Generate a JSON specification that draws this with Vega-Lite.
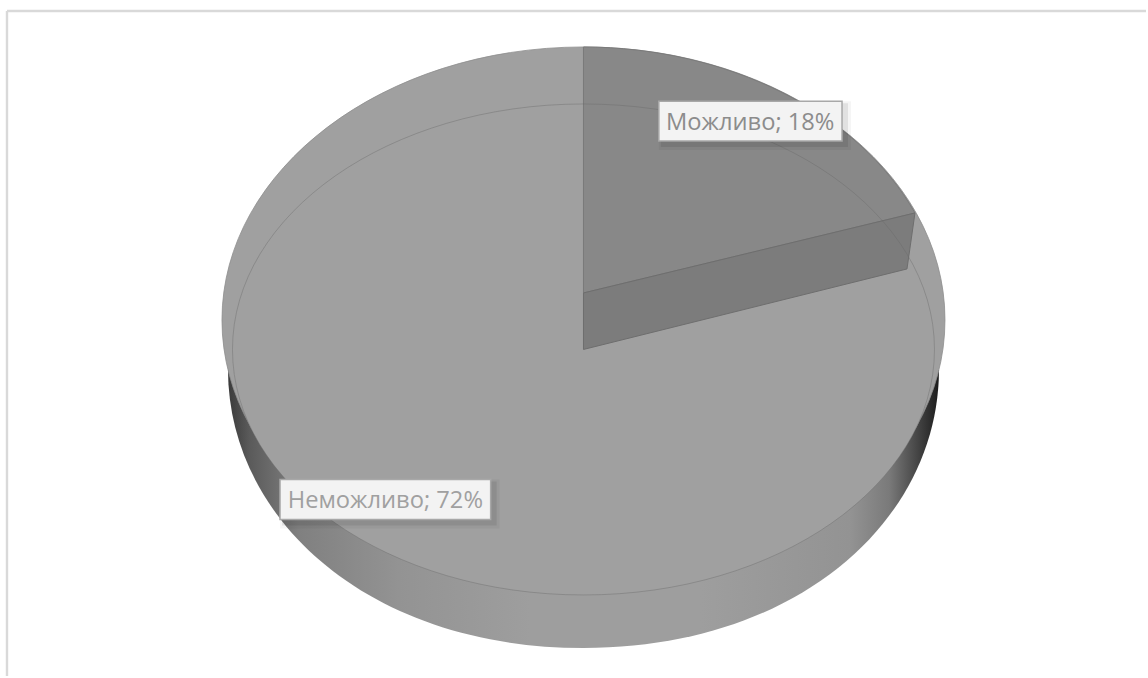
{
  "$schema": "https://vega.github.io/schema/vega-lite/v6.json",
  "autosize": {"type": "fit", "contains": "padding"},
  "width": 1148,
  "height": 678,
  "padding": 0,
  "background": "white",
  "config": {"view": {"stroke": null}},
  "datasets": {
    "pie": [
      {"category": "Неможливо", "share": 72, "x": 0, "y": 0},
      {"category": "Можливо", "share": 18, "x": 0, "y": 0}
    ],
    "labels": [
      {"category": "Можливо", "share": 18, "x": 167, "y": -229, "left": 75.5, "right": 259, "top": -249, "bottom": -209},
      {"category": "Неможливо", "share": 72, "x": -198.5, "y": 150.5, "left": -304, "right": -93, "top": 130.5, "bottom": 170.5}
    ],
    "frame": [
      {"edge": "top", "x": -577.5, "x2": 563.5, "y": -339.5, "y2": -339.5},
      {"edge": "left", "x": -577.5, "x2": -577.5, "y": -339.5, "y2": 327.5}
    ]
  },
  "encoding": {
    "x": {"field": "x", "type": "quantitative", "axis": null, "scale": {"domain": [-584.5, 563.5], "zero": false, "nice": false}},
    "y": {"field": "y", "type": "quantitative", "axis": null, "scale": {"domain": [327.5, -350.5], "zero": false, "nice": false}}
  },
  "layer": [
    {
      "description": "Chart frame",
      "data": {"name": "frame"},
      "mark": {"type": "rule", "stroke": "#d9d9d9", "strokeWidth": 2.4},
      "encoding": {"x2": {"field": "x2"}, "y2": {"field": "y2"}}
    },
    {
      "description": "Side wall of the pie, lit from the centre",
      "data": {"name": "pie"},
      "transform": [{"filter": "datum.category === 'Неможливо'"}],
      "mark": {
        "type": "point", "filled": true, "opacity": 1, "size": 4,
        "shape": "M-355.5,20.5 C-355,170 -215,298.5 0,298.5 C215,298.5 355,170 355.5,20.5 Z",
        "stroke": null,
        "fill": {
          "x1": 0, "y1": 0, "x2": 1, "y2": 0, "gradient": "linear",
          "stops": [
            {"offset": 0, "color": "#3a3a3a"},
            {"offset": 0.03, "color": "#5a5a5a"},
            {"offset": 0.1, "color": "#808080"},
            {"offset": 0.24, "color": "#939393"},
            {"offset": 0.425, "color": "#9e9e9e"},
            {"offset": 0.664, "color": "#9e9e9e"},
            {"offset": 0.875, "color": "#939393"},
            {"offset": 0.93, "color": "#7a7a7a"},
            {"offset": 0.966, "color": "#4a4a4a"},
            {"offset": 1, "color": "#1c1c1c"}
          ]
        }
      }
    },
    {
      "description": "Back part of the top surface",
      "data": {"name": "pie"},
      "transform": [{"filter": "datum.category === 'Неможливо'"}],
      "mark": {
        "type": "point", "filled": true, "opacity": 1, "size": 4,
        "shape": "M-361.5,-29.5 A361.5,273 0 1 1 361.5,-29.5 A361.5,273 0 1 1 -361.5,-29.5 Z",
        "fill": "#a0a0a0", "stroke": "#8e8e8e", "strokeWidth": 0.8
      }
    },
    {
      "description": "Front part of the top surface",
      "data": {"name": "pie"},
      "transform": [{"filter": "datum.category === 'Неможливо'"}],
      "mark": {
        "type": "point", "filled": true, "opacity": 1, "size": 4,
        "shape": "M-351,0 A351,245.5 0 1 1 351,0 A351,245.5 0 1 1 -351,0 Z",
        "fill": "#a0a0a0", "stroke": null
      }
    },
    {
      "description": "Top face of the smaller slice",
      "data": {"name": "pie"},
      "transform": [{"filter": "datum.category === 'Можливо'"}],
      "mark": {
        "type": "point", "filled": true, "opacity": 1, "size": 4,
        "shape": "M0,-302.5 A361.5,273 0 0 1 331.5,-136.5 L0,-56.5 Z",
        "fill": "#888888", "stroke": "#7a7a7a", "strokeWidth": 1
      }
    },
    {
      "description": "Cut face of the smaller slice",
      "data": {"name": "pie"},
      "transform": [{"filter": "datum.category === 'Можливо'"}],
      "mark": {
        "type": "point", "filled": true, "opacity": 1, "size": 4,
        "shape": "M0,-56.5 L331.5,-136.5 L323.5,-80.5 L0,0 Z",
        "fill": "#7c7c7c", "stroke": "#6e6e6e", "strokeWidth": 1
      }
    },
    {
      "description": "Thin rim line of the top surface",
      "data": {"name": "pie"},
      "transform": [{"filter": "datum.category === 'Неможливо'"}],
      "mark": {
        "type": "point", "filled": false, "opacity": 1, "size": 4,
        "shape": "M-351,0 A351,245.5 0 1 1 351,0 A351,245.5 0 1 1 -351,0 Z",
        "fill": null, "stroke": "#6a6a6a", "strokeOpacity": 0.4, "strokeWidth": 1
      }
    },
    {
      "description": "Soft label shadow, outer",
      "data": {"name": "labels"},
      "mark": {"type": "rect", "fill": "#000000", "opacity": 0.04, "xOffset": 0, "x2Offset": 9, "yOffset": 0, "y2Offset": 9},
      "encoding": {"x": {"field": "left", "type": "quantitative"}, "x2": {"field": "right"}, "y": {"field": "top", "type": "quantitative"}, "y2": {"field": "bottom"}}
    },
    {
      "description": "Soft label shadow, inner",
      "data": {"name": "labels"},
      "mark": {"type": "rect", "fill": "#000000", "opacity": 0.08, "xOffset": 2, "x2Offset": 6, "yOffset": 2, "y2Offset": 6},
      "encoding": {"x": {"field": "left", "type": "quantitative"}, "x2": {"field": "right"}, "y": {"field": "top", "type": "quantitative"}, "y2": {"field": "bottom"}}
    },
    {
      "description": "Label boxes",
      "data": {"name": "labels"},
      "mark": {"type": "rect", "fill": "#f3f3f3", "stroke": "#a8a8a8", "strokeWidth": 1.5},
      "encoding": {"x": {"field": "left", "type": "quantitative"}, "x2": {"field": "right"}, "y": {"field": "top", "type": "quantitative"}, "y2": {"field": "bottom"}}
    },
    {
      "description": "Label texts",
      "data": {"name": "labels"},
      "transform": [{"calculate": "datum.category + '; ' + datum.share + '%'", "as": "label"}],
      "mark": {"type": "text", "font": "Open Sans", "fontSize": 23.7, "align": "center", "baseline": "middle", "dy": 1.5},
      "encoding": {
        "text": {"field": "label"},
        "color": {"field": "category", "type": "nominal", "legend": null, "scale": {"domain": ["Можливо", "Неможливо"], "range": ["#8c8c8c", "#a0a0a0"]}}
      }
    }
  ]
}
